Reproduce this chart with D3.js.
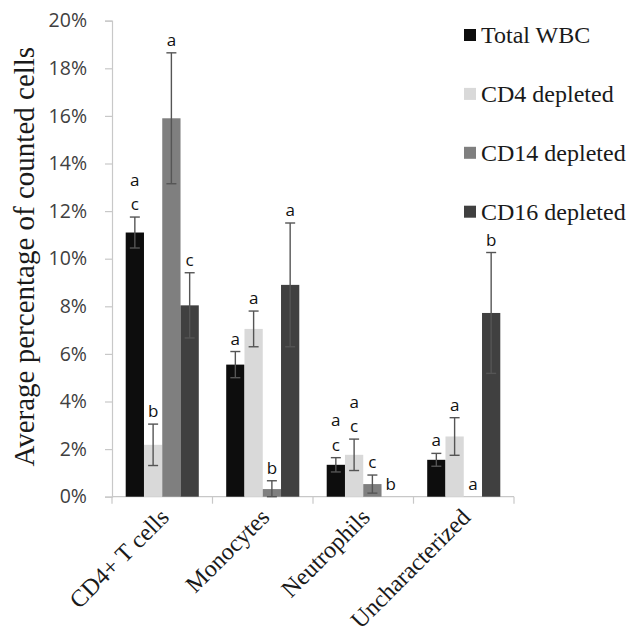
<!DOCTYPE html>
<html><head><meta charset="utf-8">
<script src="https://cdn.jsdelivr.net/npm/d3@7"></script>
<style>body{margin:0;background:#fff}svg{display:block}</style>
</head><body><svg id="c" width="629" height="637"></svg>
<script>
const categories = ["CD4+ T cells","Monocytes","Neutrophils","Uncharacterized"];
const seriesNames = ["Total WBC","CD4 depleted","CD14 depleted","CD16 depleted"];
const seriesColors = ["#0d0d0d","#d9d9d9","#7f7f7f","#404040"];
const totalWBC = [11.1, 5.55, 1.34, 1.55];
const totalWBCErr = [0.65, 0.55, 0.30, 0.27];
const cd4Depleted = [2.18, 7.05, 1.76, 2.53];
const cd4DepletedErr = [0.87, 0.75, 0.66, 0.79];
const cd14Depleted = [15.9, 0.32, 0.53, 0];
const cd14DepletedErr = [2.75, 0.35, 0.38, 0];
const cd16Depleted = [8.04, 8.9, 0, 7.72];
const cd16DepletedErr = [1.37, 2.6, 0, 2.54];
const totalWBCLetters = [["a","c"],["a"],["a","c"],["a"]];
const cd4Letters = [["b"],["a"],["a","c"],["a"]];
const cd14Letters = [["a"],["b"],["c"],["a"]];
const cd16Letters = [["c"],["a"],["b"],["b"]];
const yTicks = [0,2,4,6,8,10,12,14,16,18,20];

const values = [totalWBC, cd4Depleted, cd14Depleted, cd16Depleted];
const errs = [totalWBCErr, cd4DepletedErr, cd14DepletedErr, cd16DepletedErr];
const letters = [totalWBCLetters, cd4Letters, cd14Letters, cd16Letters];

const svg = d3.select("#c");
const x0 = 112, x1 = 514, yTop = 20.7, yBot = 496.7;
const x = d3.scaleBand().domain(categories).range([x0, x1]).paddingInner(0).paddingOuter(0);
const xs = d3.scaleBand().domain(seriesNames).range([0, x.bandwidth()]).paddingInner(0).paddingOuter(0.75);
const y = d3.scaleLinear().domain([0, 20]).range([yBot, yTop]);

// y axis
const yAxis = svg.append("g").attr("transform", `translate(${x0},0)`)
  .call(d3.axisLeft(y).tickValues(yTicks).tickSize(7).tickPadding(18).tickFormat(d => d + "%"));
yAxis.select(".domain").attr("stroke", "#c8c8c8").attr("stroke-width", 1.2);
yAxis.selectAll(".tick line").attr("stroke", "#c8c8c8").attr("stroke-width", 1.2);
yAxis.selectAll(".tick text").attr("font-family", "'Open Sans', sans-serif").attr("font-size", 19.5).attr("fill", "#404040");

// x axis line and ticks at category boundaries
const xg = svg.append("g");
xg.append("line").attr("x1", x0).attr("x2", x1).attr("y1", yBot).attr("y2", yBot).attr("stroke", "#c8c8c8").attr("stroke-width", 1.2);
const bounds = categories.map(c => x(c)).concat([x1]);
xg.selectAll(".xt").data(bounds).enter().append("line")
  .attr("x1", d => d).attr("x2", d => d).attr("y1", yBot).attr("y2", yBot + 7)
  .attr("stroke", "#c8c8c8").attr("stroke-width", 1.2);

// x labels
xg.selectAll(".xl").data(categories).enter().append("text")
  .attr("transform", d => `translate(${x(d) + x.bandwidth()/2 + 8},${yBot + 22}) rotate(-45)`)
  .attr("text-anchor", "end")
  .attr("font-family", "'Liberation Serif', 'Times New Roman', serif")
  .attr("font-size", 24).attr("fill", "#1a1a1a")
  .text(d => d);

// bars
seriesNames.forEach((s, si) => {
  const g = svg.append("g");
  categories.forEach((c, ci) => {
    const v = values[si][ci];
    const bx = x(c) + xs(s);
    const bw = xs.bandwidth();
    if (v > 0) {
      g.append("rect").attr("x", bx).attr("y", y(v)).attr("width", bw).attr("height", yBot - y(v))
        .attr("fill", seriesColors[si]);
    }
    const e = errs[si][ci];
    const cx = bx + bw / 2;
    if (e > 0) {
      const top = y(v + e), bot = y(Math.max(0, v - e));
      g.append("line").attr("x1", cx).attr("x2", cx).attr("y1", top).attr("y2", bot).attr("stroke", "#555").attr("stroke-width", 1.4);
      [top, bot].forEach(yy => g.append("line").attr("x1", cx - 5).attr("x2", cx + 5).attr("y1", yy).attr("y2", yy).attr("stroke", "#555").attr("stroke-width", 1.4));
    }
    const base = (e > 0 ? y(v + e) : y(v)) - 7;
    const L = letters[si][ci];
    L.forEach((t, k) => {
      g.append("text").attr("x", cx).attr("y", base - (L.length - 1 - k) * 24.5)
        .attr("text-anchor", "middle")
        .attr("font-family", "'Open Sans', sans-serif").attr("font-size", 17).attr("fill", "#111")
        .text(t);
    });
  });
});

// y title
svg.append("text").attr("transform", `translate(34,${(yTop + yBot) / 2 - 2}) rotate(-90)`)
  .attr("text-anchor", "middle")
  .attr("font-family", "'Liberation Serif', 'Times New Roman', serif")
  .attr("font-size", 29).attr("fill", "#1a1a1a")
  .text("Average percentage of counted cells");

// legend
const lg = svg.append("g");
seriesNames.forEach((s, i) => {
  const cy = 35 + i * 58.9;
  lg.append("rect").attr("x", 464).attr("y", cy - 6).attr("width", 12).attr("height", 12).attr("fill", seriesColors[i]);
  lg.append("text").attr("x", 481).attr("y", cy + 8)
    .attr("font-family", "'Liberation Serif', 'Times New Roman', serif")
    .attr("font-size", 24).attr("fill", "#1a1a1a").text(s);
});
</script></body></html>
